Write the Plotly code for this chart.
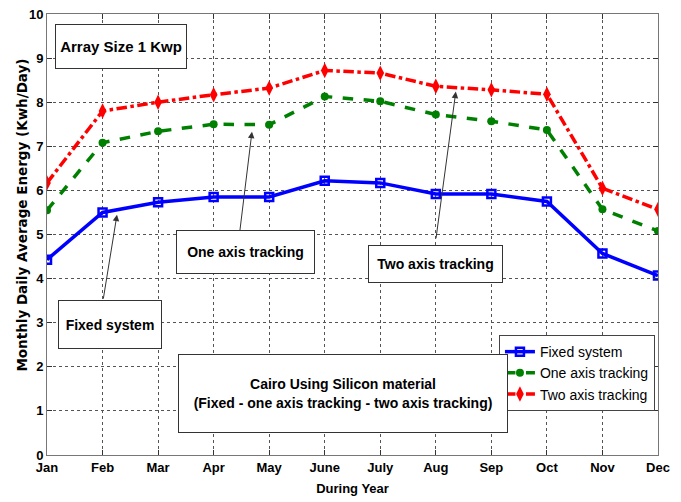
import plotly.graph_objects as go

months = ["Jan", "Feb", "Mar", "Apr", "May", "June", "July", "Aug", "Sep", "Oct", "Nov", "Dec"]
fixed = [4.43, 5.50, 5.73, 5.85, 5.85, 6.22, 6.17, 5.92, 5.92, 5.75, 4.57, 4.07]
one_axis = [5.55, 7.08, 7.34, 7.50, 7.49, 8.13, 8.02, 7.72, 7.57, 7.37, 5.57, 5.08]
two_axis = [6.17, 7.80, 8.00, 8.17, 8.32, 8.72, 8.66, 8.36, 8.28, 8.18, 6.05, 5.57]
y_ticks = list(range(0, 11))

x = list(range(1, 13))
FONT = "Liberation Sans, Arial"

fig = go.Figure()
fig.add_trace(go.Scatter(x=x, y=fixed, name="Fixed system", mode="lines+markers",
                         line=dict(color="#0000ff", width=3.5),
                         marker=dict(symbol="square-open", size=8, color="#0000ff", line=dict(width=2.5, color="#0000ff"))))
fig.add_trace(go.Scatter(x=x, y=one_axis, name="One axis tracking", mode="lines+markers",
                         line=dict(color="#008000", width=3.5, dash="dash"),
                         marker=dict(symbol="circle", size=8, color="#008000")))
fig.add_trace(go.Scatter(x=x, y=two_axis, name="Two axis tracking", mode="lines+markers",
                         line=dict(color="#ff0000", width=3.5, dash="dashdot"),
                         marker=dict(symbol="diamond-tall", size=11, color="#ff0000")))

# page body has an 8px default margin; compensate in figure size / margins
fig.update_layout(
    width=673, height=494,
    margin=dict(l=39, r=23, t=6, b=47),
    paper_bgcolor="white", plot_bgcolor="white",
    font=dict(family=FONT, color="black", size=13),
    showlegend=True,
    legend=dict(x=0.995, y=0.272, xanchor="right", yanchor="top",
                bordercolor="#444", borderwidth=1, bgcolor="white",
                font=dict(family=FONT, size=14, color="black"),
                tracegroupgap=0, itemwidth=30),
    xaxis=dict(range=[1, 12], tickmode="array", tickvals=x, ticktext=months,
               showgrid=True, gridcolor="#555", griddash="dot", gridwidth=1,
               showline=True, linecolor="#777", mirror="ticks", ticks="inside", ticklen=5,
               tickcolor="#333", ticklabeloverflow="allow",
               tickfont=dict(family=FONT, size=13, color="black", weight="bold"),
               title=dict(text="<b>During Year</b>", font=dict(family=FONT, size=13), standoff=10),
               zeroline=False, automargin=False),
    yaxis=dict(range=[0, 10], tickmode="array", tickvals=y_ticks,
               showgrid=True, gridcolor="#555", griddash="dot", gridwidth=1,
               showline=True, linecolor="#777", mirror="ticks", ticks="inside", ticklen=5,
               tickcolor="#333", ticklabeloverflow="allow",
               tickfont=dict(family=FONT, size=13, color="black", weight="bold"),
               zeroline=False, automargin=False),
)

# y-axis title (placed as rotated text, slightly above the plot centre as in the original)
fig.add_annotation(xref="paper", yref="paper", x=-0.041, y=0.545, xanchor="center", yanchor="middle",
                   text="<b>Monthly Daily Average Energy (Kwh/Day)</b>", textangle=-90,
                   showarrow=False, font=dict(family="DejaVu Sans", size=13.5, color="black"))

def box(text, xc, yc, w, h, size=15):
    fig.add_annotation(x=xc, y=yc, xref="x", yref="y", text="<b>" + text + "</b>", showarrow=False,
                       font=dict(family=FONT, size=size, color="black"),
                       width=w, height=h, align="center", valign="middle",
                       bordercolor="#333", borderwidth=1, borderpad=0, bgcolor="white")

def arrow(x0, y0, x1, y1):
    fig.add_annotation(x=x1, y=y1, ax=x0, ay=y0, xref="x", yref="y", axref="x", ayref="y",
                       text="", showarrow=True, arrowhead=2, arrowsize=1.3, arrowwidth=1,
                       arrowcolor="#333")

arrow(2.01, 3.51, 2.26, 5.45)
arrow(4.47, 5.06, 4.69, 7.33)
arrow(8.0, 4.88, 8.36, 8.24)

box("Array Size 1 Kwp", 2.33, 9.26, 130, 43, 15)
box("One axis tracking", 4.57, 4.60, 137, 42, 14)
box("Fixed system", 2.13, 2.96, 102, 47, 14)
box("Two axis tracking", 7.99, 4.33, 133, 36, 14)
box("Cairo Using Silicon material<br>(Fixed - one axis tracking - two axis tracking)", 6.33, 1.39, 328, 77, 14)

fig.write_html("out.html")
